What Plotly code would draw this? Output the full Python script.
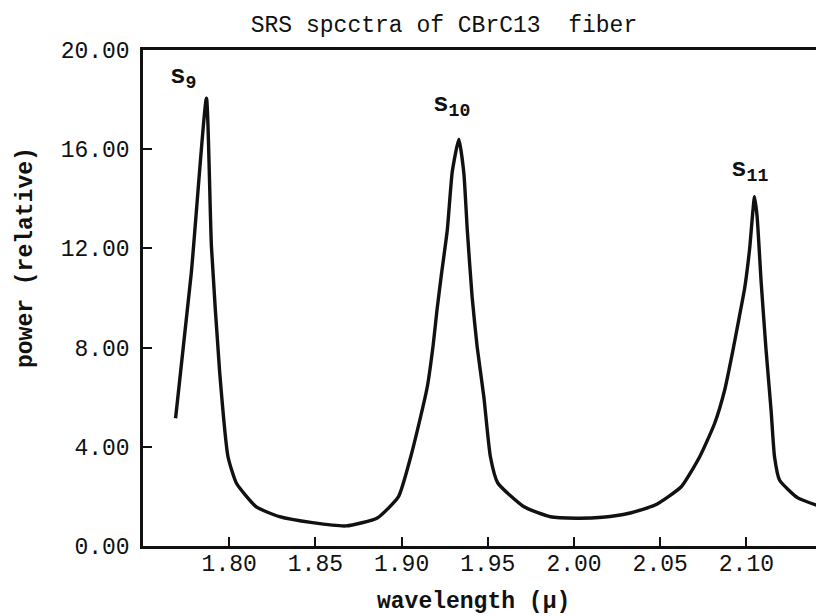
import plotly.graph_objects as go

# wavelength (micron) and relative power
wavelength = [1.7689, 1.7780, 1.7868, 1.7897, 1.7945, 1.7993, 1.8042, 1.8157, 1.8292,
              1.8483, 1.8678, 1.8859, 1.8982, 1.9053, 1.9092, 1.9149, 1.9183, 1.9205,
              1.9230, 1.9265, 1.9294, 1.9332, 1.9361, 1.9381, 1.9409, 1.9438, 1.9477,
              1.9515, 1.9558, 1.9710, 1.9863, 2.0014, 2.0165, 2.0319, 2.0470, 2.0622,
              2.0729, 2.0816, 2.0874, 2.0922, 2.0955, 2.0990, 2.1018, 2.1047, 2.1062,
              2.1086, 2.1114, 2.1143, 2.1163, 2.1192, 2.1298, 2.1450]
power = [5.15, 11.0, 18.06, 12.07, 6.98, 3.60, 2.53, 1.58, 1.18,
         0.94, 0.81, 1.13, 1.99, 3.60, 4.68, 6.42, 8.10, 9.50,
         10.90, 12.74, 15.10, 16.40, 15.03, 12.74, 10.05, 8.04, 6.02,
         3.60, 2.54, 1.58, 1.18, 1.12, 1.16, 1.32, 1.65, 2.39,
         3.60, 4.95, 6.29, 7.90, 9.10, 10.40, 11.94, 14.08, 13.28,
         10.59, 7.90, 5.48, 3.60, 2.66, 1.94, 1.55]

x_ticks = [1.80, 1.85, 1.90, 1.95, 2.00, 2.05, 2.10]
x_tick_labels = ["1.80", "1.85", "1.90", "1.95", "2.00", "2.05", "2.10"]
y_ticks = [0, 4, 8, 12, 16, 20]
y_tick_labels = ["0.00", "4.00", "8.00", "12.00", "16.00", "20.00"]

peak_names = ["s<sub>9</sub>", "s<sub>10</sub>", "s<sub>11</sub>"]
peak_label_x = [1.7735, 1.9290, 2.1020]
peak_label_y = [18.9, 17.8, 15.15]

FONT = "Liberation Mono, Courier New, monospace"
INK = "#111111"

# page body has an 8px margin: figure is sized/margined to compensate
W, H = 816, 608
ML, MT, PH = 135, 42, 496
PW = W - ML

fig = go.Figure()
fig.add_trace(go.Scatter(
    x=wavelength, y=power, mode="lines",
    line=dict(color=INK, width=3.4, shape="spline", smoothing=0.5),
    showlegend=False, hoverinfo="skip"))

for name, lx, ly in zip(peak_names, peak_label_x, peak_label_y):
    fig.add_annotation(x=lx, y=ly, xref="x", yref="y", text=name, showarrow=False,
                       xanchor="center", yanchor="middle",
                       font=dict(family=FONT, size=26, color=INK, weight="bold"))

fig.add_annotation(x=(473 - 8 - ML) / PW, y=(MT + PH - (602 - 8)) / PH,
                   xref="paper", yref="paper", xanchor="center", yanchor="middle",
                   text="wavelength (\u03bc)", showarrow=False,
                   font=dict(family=FONT, size=23, color=INK, weight="bold"))
fig.add_annotation(x=(26 - 8 - ML) / PW, y=(MT + PH - (258 - 8)) / PH,
                   xref="paper", yref="paper", xanchor="center", yanchor="middle",
                   textangle=-90, text="power (relative)", showarrow=False,
                   font=dict(family=FONT, size=23, color=INK, weight="bold"))

fig.update_layout(
    width=W, height=H,
    margin=dict(l=ML, r=0, t=MT, b=H - MT - PH, autoexpand=False),
    paper_bgcolor="white", plot_bgcolor="white",
    font=dict(family=FONT, color=INK),
    title=dict(text="SRS spcctra of CBrC13  fiber", x=(444 - 8 - ML) / PW, xref="paper",
               xanchor="center", y=1 - (24 - 8) / H, yref="container", yanchor="middle",
               font=dict(family=FONT, size=23, color=INK)),
    xaxis=dict(range=[1.75, 2.145], tickvals=x_ticks, ticktext=x_tick_labels,
               showgrid=False, zeroline=False, showline=True, mirror=True,
               linecolor=INK, linewidth=2.5, ticks="inside", ticklen=9,
               tickwidth=2, tickcolor=INK, ticklabelstandoff=-5,
               tickfont=dict(family=FONT, size=23, color=INK)),
    yaxis=dict(range=[0, 20], tickvals=y_ticks, ticktext=y_tick_labels,
               showgrid=False, zeroline=False, showline=True, mirror=False,
               linecolor=INK, linewidth=2.5, ticks="inside", ticklen=9,
               tickwidth=2, tickcolor=INK, ticklabelstandoff=6,
               tickfont=dict(family=FONT, size=23, color=INK)),
)

fig.write_html("out.html")
